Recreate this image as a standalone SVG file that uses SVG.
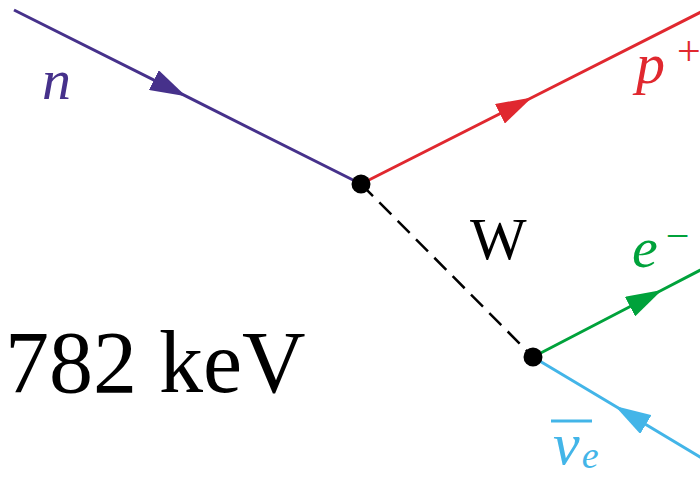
<svg xmlns="http://www.w3.org/2000/svg" width="700" height="477" viewBox="0 0 700 477">
<style>
.ln{fill:none;stroke-width:3;stroke-linecap:butt}
.lbl{font-family:"Liberation Serif","DejaVu Serif",serif}
.it{font-style:italic}
.vtx{fill:#000}
</style>
<defs>
<marker id="aN" markerUnits="userSpaceOnUse" viewBox="0 0 36 22" refX="36" refY="11" markerWidth="36" markerHeight="22" orient="auto"><path d="M0,0 L36,11 L0,22 Z" fill="#46318b"/></marker>
<marker id="aP" markerUnits="userSpaceOnUse" viewBox="0 0 36 22" refX="36" refY="11" markerWidth="36" markerHeight="22" orient="auto"><path d="M0,0 L36,11 L0,22 Z" fill="#e0282f"/></marker>
<marker id="aE" markerUnits="userSpaceOnUse" viewBox="0 0 36 22" refX="36" refY="11" markerWidth="36" markerHeight="22" orient="auto"><path d="M0,0 L36,11 L0,22 Z" fill="#00a23b"/></marker>
<marker id="aV" markerUnits="userSpaceOnUse" viewBox="0 0 36 22" refX="36" refY="11" markerWidth="36" markerHeight="22" orient="auto"><path d="M0,0 L36,11 L0,22 Z" fill="#43b5e8"/></marker>
</defs>
<rect width="700" height="477" fill="#fff"/>
<g id="connectors">
<polyline id="neutron-line" class="ln" stroke="#46318b" points="14,10 186,96.2 361,184" marker-mid="url(#aN)"/>
<polyline id="proton-line" class="ln" stroke="#e0282f" points="361,184 532,97.5 705,10" marker-mid="url(#aP)"/>
<line id="w-line" x1="361" y1="184" x2="533" y2="357" stroke="#000" stroke-width="2.5" stroke-dasharray="17 9"/>
<polyline id="electron-line" class="ln" stroke="#00a23b" points="533,357 662,290 720,259.8" marker-mid="url(#aE)"/>
<polyline id="antineutrino-line" class="ln" stroke="#43b5e8" points="720,469 615,406 533,357" marker-mid="url(#aV)"/>
</g>
<g id="vertex1"><circle class="vtx" cx="361" cy="184" r="9.5"/></g>
<g id="vertex2"><circle class="vtx" cx="533" cy="357" r="9.5"/></g>
<g id="neutron"><text class="lbl it" x="42" y="99" font-size="58" fill="#46318b">n</text></g>
<g id="proton"><text class="lbl it" x="636" y="83" font-size="58" fill="#e0282f">p<tspan font-style="normal" font-size="42" dy="-18" dx="12">+</tspan></text></g>
<g id="w-boson"><text class="lbl" x="470" y="259" font-size="60" fill="#000">W</text></g>
<g id="electron"><text class="lbl it" x="632" y="267" font-size="58" fill="#00a23b">e<tspan font-style="normal" font-size="42" dy="-17" dx="8">−</tspan></text></g>
<g id="antineutrino">
<line x1="551" y1="421" x2="592" y2="421" stroke="#43b5e8" stroke-width="3"/>
<text class="lbl it" x="553" y="464" font-size="60" fill="#43b5e8">ν<tspan font-size="38" dy="4" dx="2">e</tspan></text>
</g>
<g id="energy"><text class="lbl" x="5" y="392" font-size="88" fill="#000">782 keV</text></g>
</svg>
